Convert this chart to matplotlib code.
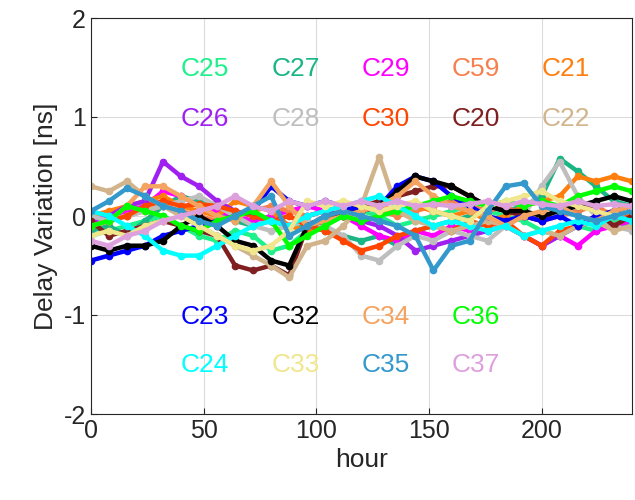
import matplotlib
matplotlib.use('Agg')
import matplotlib.pyplot as plt
import numpy as np

plt.rcParams['font.family'] = ['Liberation Sans', 'DejaVu Sans']
plt.rcParams['axes.unicode_minus'] = False

# sample hours (every 8 h)
hours = list(range(0, 241, 8))

names = ['C25', 'C27', 'C29', 'C59', 'C21',
         'C26', 'C28', 'C30', 'C20', 'C22',
         'C23', 'C32', 'C34', 'C36',
         'C24', 'C33', 'C35', 'C37']

colors = ['#1EF08A', '#1AB585', '#FF00FF', '#F5804C', '#FF7F0E',
          '#A020F0', '#BEBEBE', '#FF4500', '#7F1F1F', '#D2B48C',
          '#0000FF', '#000000', '#F4A460', '#00FF00',
          '#00FFFF', '#F0E68C', '#3399CC', '#DDA0DD']

c25 = [-0.2, -0.15, -0.1, -0.05, 0.0, -0.1, -0.2, -0.25, -0.15, -0.2, -0.35, -0.3, -0.15, -0.05, 0.0, 0.05,
       0.0, -0.1, -0.05, 0.0, 0.05, 0.1, 0.05, 0.0, -0.05, -0.15, -0.2, -0.1, -0.15, -0.05, -0.1]
c27 = [-0.15, -0.1, -0.2, -0.05, 0.1, 0.2, 0.15, 0.05, -0.05, -0.1, -0.05, -0.1, -0.1, -0.15, -0.2, -0.25,
       -0.2, -0.3, -0.15, -0.1, -0.05, 0.0, 0.1, 0.05, 0.1, 0.2, 0.58, 0.45, 0.3, 0.15, 0.1]
c29 = [-0.05, 0.0, 0.05, 0.1, 0.25, 0.2, 0.1, 0.05, 0.0, -0.05, 0.0, 0.05, 0.1, 0.05, 0.0, -0.1,
       -0.2, -0.25, -0.15, -0.2, -0.1, -0.15, -0.05, -0.1, -0.2, -0.3, -0.2, -0.3, -0.15, -0.1, -0.05]
c59 = [-0.1, -0.05, 0.0, 0.05, 0.1, 0.05, 0.0, -0.05, 0.0, 0.05, 0.1, 0.05, 0.0, 0.05, 0.1, 0.1,
       0.05, 0.0, 0.05, 0.1, 0.15, 0.1, 0.05, 0.1, 0.0, -0.05, 0.0, 0.05, 0.1, 0.0, 0.05]
c21 = [0.0, 0.05, 0.1, 0.15, 0.2, 0.1, 0.05, 0.0, 0.15, 0.1, 0.05, -0.1, -0.15, -0.05, 0.0, 0.05,
       0.1, 0.05, 0.1, 0.05, 0.0, 0.05, -0.05, 0.0, 0.1, 0.15, 0.2, 0.4, 0.35, 0.4, 0.35]
c26 = [-0.1, 0.0, 0.1, 0.15, 0.55, 0.4, 0.3, 0.15, 0.05, 0.0, -0.05, -0.1, 0.0, 0.05, 0.0, -0.05,
       -0.1, -0.2, -0.35, -0.3, -0.25, -0.2, -0.15, -0.1, -0.2, -0.3, -0.2, -0.1, -0.05, 0.0, -0.05]
c28 = [0.0, -0.05, 0.0, 0.05, 0.1, 0.15, 0.2, 0.1, 0.0, -0.1, -0.15, -0.1, -0.05, -0.1, -0.2, -0.4,
       -0.45, -0.3, -0.2, -0.25, -0.15, -0.2, -0.25, -0.1, 0.0, 0.3, 0.55, 0.2, 0.0, -0.1, -0.15]
c30 = [-0.1, -0.05, 0.0, 0.1, 0.15, 0.1, 0.12, 0.1, 0.05, 0.0, -0.05, 0.0, -0.1, -0.15, -0.25, -0.35,
       -0.3, -0.2, -0.15, -0.1, -0.15, -0.05, -0.1, -0.05, -0.2, -0.3, -0.15, -0.1, 0.0, 0.05, 0.0]
c20 = [-0.05, -0.2, -0.15, -0.1, -0.05, -0.1, -0.15, -0.2, -0.5, -0.55, -0.5, -0.6, -0.1, 0.0, 0.05, 0.1,
       0.15, 0.2, 0.25, 0.3, 0.3, 0.2, 0.1, 0.05, 0.0, -0.05, 0.1, 0.15, 0.05, -0.1, 0.0]
c22 = [0.3, 0.25, 0.35, 0.2, 0.1, 0.0, -0.1, -0.2, -0.3, -0.4, -0.5, -0.62, -0.3, -0.25, -0.1, 0.1,
       0.6, 0.05, -0.05, -0.1, -0.15, -0.1, -0.05, -0.1, -0.2, -0.15, -0.2, -0.1, -0.05, -0.15, -0.1]
c23 = [-0.45, -0.4, -0.35, -0.3, -0.2, -0.15, -0.1, -0.05, 0.0, 0.05, 0.3, 0.15, 0.1, 0.15, 0.1, 0.05,
       0.1, 0.3, 0.4, 0.35, 0.2, 0.1, 0.0, -0.05, 0.0, -0.05, 0.0, -0.1, 0.0, 0.05, 0.1]
c32 = [-0.3, -0.35, -0.3, -0.3, -0.25, -0.1, 0.0, -0.1, -0.25, -0.3, -0.45, -0.5, -0.1, -0.05, 0.0, 0.05,
       0.1, 0.25, 0.4, 0.35, 0.3, 0.2, 0.1, 0.05, 0.05, 0.0, 0.05, 0.1, 0.15, 0.2, 0.15]
c34 = [-0.1, -0.05, 0.1, 0.3, 0.3, 0.2, 0.1, 0.0, -0.05, 0.1, 0.35, 0.1, -0.1, -0.05, 0.0, 0.05,
       0.1, 0.2, 0.35, 0.2, 0.1, 0.05, 0.0, -0.1, 0.0, 0.05, 0.1, 0.0, -0.05, 0.05, 0.1]
c36 = [-0.1, -0.05, 0.1, 0.05, 0.0, -0.1, -0.15, -0.05, 0.0, 0.05, -0.05, -0.3, -0.2, -0.1, 0.0, -0.05,
       0.0, 0.05, 0.1, 0.15, 0.2, 0.15, 0.1, 0.15, 0.1, 0.15, 0.1, 0.2, 0.25, 0.3, 0.25]
c24 = [0.05, 0.0, -0.1, -0.2, -0.35, -0.4, -0.4, -0.3, -0.2, -0.1, -0.05, -0.1, 0.0, 0.05, 0.1, 0.15,
       0.2, 0.1, 0.0, -0.1, -0.05, -0.1, -0.15, -0.1, -0.2, -0.15, -0.1, -0.05, -0.1, 0.0, -0.05]
c33 = [-0.2, -0.15, -0.2, -0.1, -0.05, 0.0, -0.1, -0.2, -0.3, -0.35, -0.3, -0.15, 0.15, 0.1, 0.15, 0.1,
       0.05, 0.1, 0.15, 0.05, 0.0, -0.05, 0.1, 0.15, 0.2, 0.25, 0.15, 0.1, 0.05, 0.0, 0.05]
c35 = [0.05, 0.15, 0.28, 0.2, 0.1, 0.05, -0.05, -0.1, 0.0, 0.1, 0.2, -0.2, -0.1, 0.0, 0.05, 0.0,
       -0.05, -0.1, -0.2, -0.55, -0.3, -0.25, 0.05, 0.3, 0.33, 0.1, 0.05, 0.0, -0.05, 0.0, 0.05]
c37 = [-0.25, -0.3, -0.2, -0.15, -0.05, 0.0, 0.05, 0.1, 0.2, 0.1, 0.05, 0.15, 0.1, 0.15, 0.1, 0.15,
       0.1, 0.15, 0.1, 0.12, 0.1, 0.12, 0.15, 0.1, 0.15, 0.12, 0.1, 0.15, 0.1, 0.12, 0.1]

series = [c25, c27, c29, c59, c21, c26, c28, c30, c20, c22,
          c23, c32, c34, c36, c24, c33, c35, c37]

# label grid: rows of names placed at hour / delay positions
label_x = [40, 80, 120, 160, 200]
label_y = [1.48, 0.98, -1.02, -1.5]
rows = [names[0:5], names[5:10], names[10:14], names[14:18]]

fig = plt.figure(figsize=(6.35, 5.0), dpi=100)
ax = fig.add_axes([0.143, 0.172, 0.852, 0.792])

for vals, col in zip(series, colors):
    ax.plot(hours, vals, '-', color=col, lw=3.2, marker='o', ms=4.5, mec=col, mfc=col)

k = 0
for r, row in enumerate(rows):
    for c, nm in enumerate(row):
        ax.text(label_x[c], label_y[r], nm, color=colors[k], fontsize=19,
                ha='left', va='center')
        k += 1

ax.set_xlim(0, 240)
ax.set_ylim(-2, 2)
ax.set_xticks([0, 50, 100, 150, 200])
ax.set_yticks([-2, -1, 0, 1, 2])
ax.grid(True, color='#DCDCDC', lw=0.8)
ax.set_axisbelow(True)
ax.tick_params(direction='in', labelsize=18, colors='#262626', length=4)
for s in ax.spines.values():
    s.set_color('#262626')
ax.set_xlabel('hour', fontsize=19, color='#262626')
ax.set_ylabel('Delay Variation [ns]', fontsize=19, color='#262626')

fig.savefig('out.png', dpi=100)
